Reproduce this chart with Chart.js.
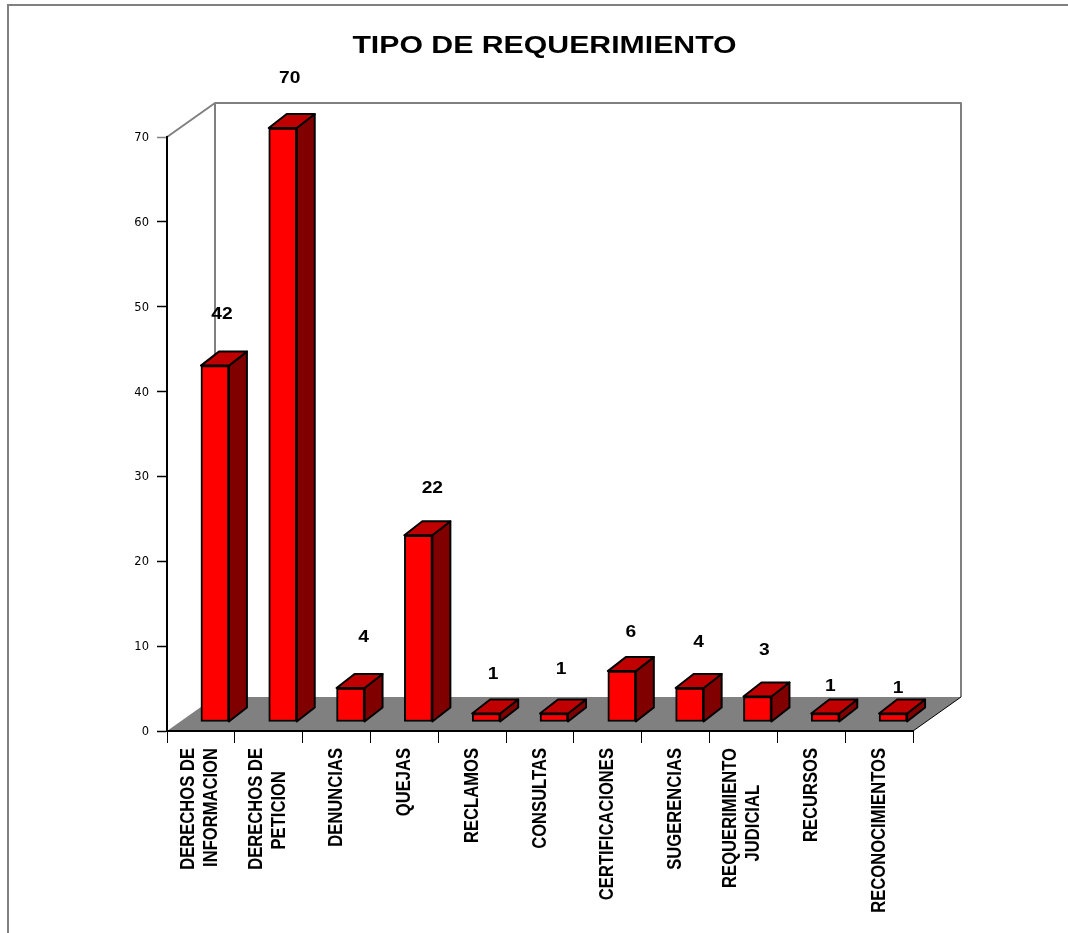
<!DOCTYPE html>
<html>
<head>
<meta charset="utf-8">
<title>Tipo de requerimiento</title>
<script src="https://cdn.jsdelivr.net/npm/chart.js@4/dist/chart.umd.min.js"></script>
<style>
    html, body { margin: 0; padding: 0; background: #fff; overflow: hidden; }
    #frame { position: absolute; left: 7px; top: 4px; right: 0; bottom: 0; border-top: 2px solid #808080; border-left: 2px solid #808080; }
    #chart { position: absolute; left: 0; top: 0; }
</style>
</head>
<body>
<div id="frame"></div>
<canvas id="chart" width="1068" height="933"></canvas>
<script>
const categories = [
    ['DERECHOS DE', 'INFORMACION'],
    ['DERECHOS DE', 'PETICION'],
    'DENUNCIAS',
    'QUEJAS',
    'RECLAMOS',
    'CONSULTAS',
    'CERTIFICACIONES',
    'SUGERENCIAS',
    ['REQUERIMIENTO', 'JUDICIAL'],
    'RECURSOS',
    'RECONOCIMIENTOS',
];
const requerimientos = [42, 70, 4, 22, 1, 1, 6, 4, 3, 1, 1];
const titleText = 'TIPO DE REQUERIMIENTO';

// nudges of the value labels, relative to the top of each bar
const labelDx = [7, 7, 13, 14, 7, 7, 9, 9, 7, 5, 5];
const labelDy = [51, 49, 50, 47, 39, 44, 38, 45, 46, 27, 25];

const wallDx = 48, wallDy = -34;   // depth of the floor
const barDx = 18, barDy = -14;     // depth of a bar
const shiftX = 14, shiftY = -9;    // bars stand inside the floor
const labelTop = 748;              // x labels hang from here
const labelSqueeze = 0.83;         // the original labels are a narrow face

const poly = (ctx, pts, fill, stroke, lw) => {
    ctx.beginPath();
    pts.forEach((p, i) => (i ? ctx.lineTo(p[0], p[1]) : ctx.moveTo(p[0], p[1])));
    if (fill) {
        ctx.closePath();
        ctx.fillStyle = fill;
        ctx.fill();
    }
    if (stroke) {
        ctx.strokeStyle = stroke;
        ctx.lineWidth = lw;
        ctx.lineJoin = 'round';
        ctx.stroke();
    }
};

const box3d = {
    id: 'box3d',
    afterLayout(chart) {
        const ctx = chart.ctx;

        // the title is stretched sideways like the original
        const block = chart.titleBlock;
        if (!block.wrapped) {
            const drawTitle = block.draw.bind(block);
            block.draw = () => {
                ctx.save();
                ctx.translate(544.5, 0);
                ctx.scale(1.26, 1);
                ctx.translate(-456.5, 0);
                drawTitle();
                ctx.restore();
            };
            block.wrapped = true;
        }

        // x labels: squeeze along the text and centre the two line ones on the tick
        const xScale = chart.scales.x;
        if (!xScale.wrapped) {
            const drawLabels = xScale.drawLabels.bind(xScale);
            xScale._computeLabelArea = () => null;   // its clip would cut the squeezed text
            xScale.drawLabels = (area) => {
                xScale.getLabelItems(area).forEach((item) => {
                    if (Array.isArray(item.label) && !item.moved) {
                        item.textOffset -= 12.5;
                        item.moved = true;
                    }
                });
                ctx.save();
                ctx.translate(0, labelTop);
                ctx.scale(1, labelSqueeze);
                ctx.translate(0, -labelTop);
                drawLabels(area);
                ctx.restore();
            };
            xScale.wrapped = true;
        }
    },
    beforeDraw(chart) {
        const { ctx, chartArea: a } = chart;
        const l = a.left, r = a.right, t = a.top, b = a.bottom;
        ctx.save();
        poly(ctx, [[l, b], [l + wallDx, b + wallDy], [r + wallDx, b + wallDy], [r, b]], '#808080');
        poly(ctx, [[l, t], [l + wallDx, t + wallDy], [l + wallDx, b + wallDy]], null, '#808080', 2);
        poly(ctx, [[l + wallDx, t + wallDy], [r + wallDx, t + wallDy], [r + wallDx, b + wallDy]], null, '#808080', 2);
        poly(ctx, [[r + wallDx, b + wallDy], [r, b]], null, '#000', 1);
        ctx.restore();
    },
    beforeDatasetsDraw(chart) {
        const ctx = chart.ctx;
        ctx.save();
        ctx.translate(shiftX, shiftY);
        chart.getDatasetMeta(0).data.forEach((el) => {
            const right = el.x + el.width / 2;
            const left = el.x - el.width / 2;
            poly(ctx, [[right, el.base], [right + barDx, el.base + barDy], [right + barDx, el.y + barDy], [right, el.y]], '#800000', '#000', 2);
            poly(ctx, [[left, el.y], [left + barDx, el.y + barDy], [right + barDx, el.y + barDy], [right, el.y]], '#c00000', '#000', 2);
        });
    },
    afterDatasetsDraw(chart) {
        const ctx = chart.ctx;
        ctx.restore();
        ctx.save();
        ctx.fillStyle = '#000';
        ctx.font = 'bold 16px "Liberation Sans"';
        ctx.textAlign = 'center';
        ctx.textBaseline = 'middle';
        chart.getDatasetMeta(0).data.forEach((el, i) => {
            ctx.save();
            ctx.translate(el.x + shiftX + labelDx[i], el.y + shiftY - labelDy[i]);
            ctx.scale(1.2, 1);
            ctx.fillText(String(requerimientos[i]), 0, 0);
            ctx.restore();
        });
        ctx.restore();
    },
};

// textAlign is forced to right on rotated ticks, pad short lines to centre them
const centreLines = (label) => {
    if (!Array.isArray(label)) return label;
    const longest = Math.max(...label.map((s) => s.length));
    return label.map((s) => s + ' '.repeat(Math.round((longest - s.length) * 1.5)));
};

new Chart(document.querySelector('#chart'), {
    type: 'bar',
    data: {
        labels: categories,
        datasets: [{
            data: requerimientos,
            backgroundColor: '#ff0000',
            borderColor: '#000',
            borderWidth: 2,
            borderSkipped: false,
            barThickness: 28,
            clip: false,
        }],
    },
    plugins: [box3d],
    options: {
        responsive: false,
        animation: false,
        events: [],
        layout: { padding: { right: 155 } },
        plugins: {
            legend: { display: false },
            tooltip: { enabled: false },
            title: {
                display: true,
                text: titleText,
                color: '#000',
                font: { family: '"Liberation Sans"', size: 24, weight: 'bold', lineHeight: 1.2 },
                padding: { top: 32, bottom: 76.2 },
            },
        },
        scales: {
            x: {
                afterFit: (scale) => { scale.height = 202; },
                border: { color: '#000', width: 2 },
                grid: { drawOnChartArea: false, tickColor: '#000', tickLength: 12, tickWidth: 1, offset: true },
                ticks: {
                    minRotation: 90,
                    maxRotation: 90,
                    autoSkip: false,
                    padding: 5,
                    color: '#000',
                    font: { family: '"Liberation Sans"', size: 20, weight: 'bold', lineHeight: 1.15 },
                    callback(value) {
                        return centreLines(categories[value]);
                    },
                },
            },
            y: {
                min: 0,
                max: 70,
                afterFit: (scale) => { scale.width = 167; },
                border: { color: '#000', width: 2 },
                grid: {
                    drawOnChartArea: false,
                    tickLength: 10,
                    tickWidth: 1.5,
                    tickColor: (c) => (c.tick && c.tick.value === 70 ? '#808080' : '#000'),
                },
                ticks: {
                    stepSize: 10,
                    padding: 8,
                    labelOffset: 1,
                    color: '#000',
                    font: { family: '"DejaVu Sans"', size: 11.5 },
                },
            },
        },
    },
});
</script>
</body>
</html>
